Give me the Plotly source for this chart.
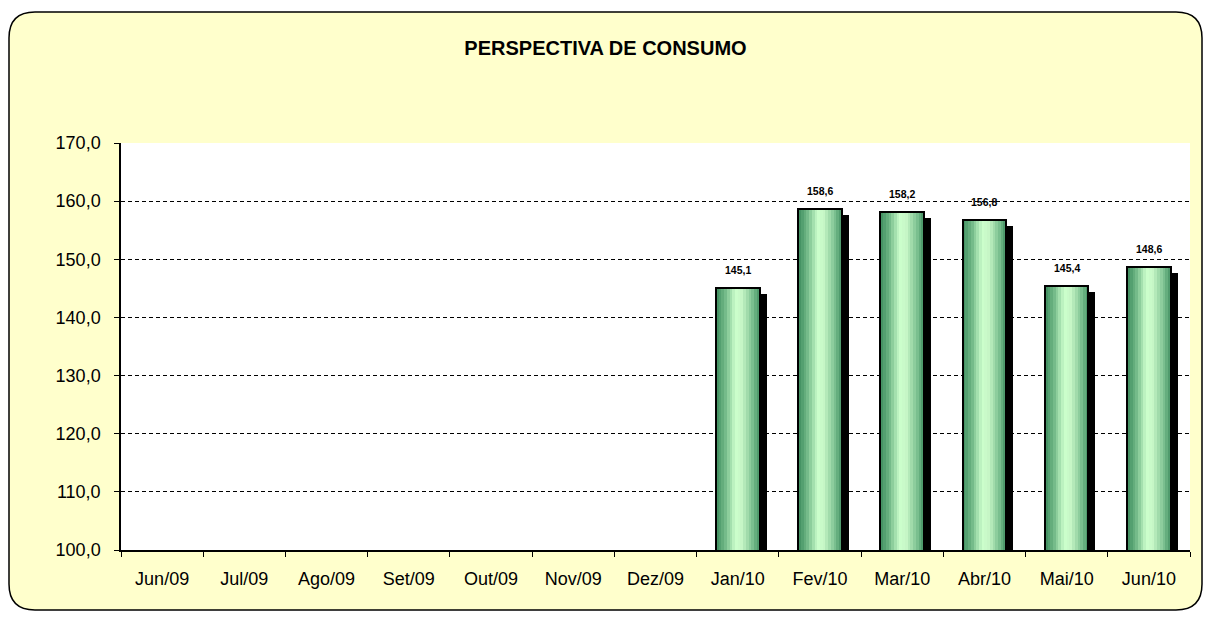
import plotly.graph_objects as go

# monthly consumption outlook
months = ['Jun/09', 'Jul/09', 'Ago/09', 'Set/09', 'Out/09', 'Nov/09', 'Dez/09',
          'Jan/10', 'Fev/10', 'Mar/10', 'Abr/10', 'Mai/10', 'Jun/10']
consumo = [None, None, None, None, None, None, None,
           145.1, 158.6, 158.2, 156.8, 145.4, 148.6]
y_ticks = [100, 110, 120, 130, 140, 150, 160, 170]

# page has an 8px body margin, so the figure is a bit smaller than the window
W, H = 1195, 603
L, R, T, B = 113, 13, 135, 61
pw, ph = W - L - R, H - T - B

bar_w = 0.53
cat_px = pw / len(months)
px_unit = ph / (y_ticks[-1] - y_ticks[0])

fig = go.Figure()

# black drop shadow, shifted right/down a few pixels
shadow = [v - 6 / px_unit if v is not None else None for v in consumo]
fig.add_trace(go.Bar(x=months, y=shadow, width=bar_w, offset=-bar_w / 2 + 7 / cat_px,
                     marker=dict(color='black', line=dict(width=0)),
                     hoverinfo='skip', showlegend=False))

# horizontal green gradient built from thin stripes
stops = [(0.0, (62, 140, 94)), (0.2, (110, 182, 133)), (0.45, (204, 255, 204)),
         (0.6, (198, 246, 198)), (0.85, (120, 190, 142)), (1.0, (70, 146, 100))]


def grad(t):
    for (t0, c0), (t1, c1) in zip(stops, stops[1:]):
        if t <= t1:
            f = (t - t0) / (t1 - t0)
            return 'rgb(%d,%d,%d)' % tuple(round(a + (b - a) * f) for a, b in zip(c0, c1))
    return 'rgb(%d,%d,%d)' % stops[-1][1]


n = 16
sw = bar_w / n
for i in range(n):
    fig.add_trace(go.Bar(x=months, y=consumo, width=sw * 1.05, offset=-bar_w / 2 + i * sw,
                         marker=dict(color=grad((i + 0.5) / n), line=dict(width=0)),
                         hoverinfo='skip', showlegend=False))

# outline
fig.add_trace(go.Bar(x=months, y=consumo, width=bar_w, offset=-bar_w / 2,
                     marker=dict(color='rgba(0,0,0,0)', line=dict(color='black', width=2)),
                     showlegend=False))

for m, v in zip(months, consumo):
    if v is None:
        continue
    fig.add_annotation(x=m, y=v, text='<b>' + f'{v:.1f}'.replace('.', ',') + '</b>',
                       showarrow=False, yshift=18,
                       font=dict(size=10.5, color='black', family='Liberation Sans, Arial'))


# rounded chart frame + white plot area
def px_x(x):
    return (x - L) / pw


def px_y(y):
    return (H - B - y) / ph


x0, x1, y0, y1, r = 1, 1194, 4, 602, 26
path = (f'M {px_x(x0 + r)},{px_y(y0)} L {px_x(x1 - r)},{px_y(y0)} '
        f'Q {px_x(x1)},{px_y(y0)} {px_x(x1)},{px_y(y0 + r)} '
        f'L {px_x(x1)},{px_y(y1 - r)} Q {px_x(x1)},{px_y(y1)} {px_x(x1 - r)},{px_y(y1)} '
        f'L {px_x(x0 + r)},{px_y(y1)} Q {px_x(x0)},{px_y(y1)} {px_x(x0)},{px_y(y1 - r)} '
        f'L {px_x(x0)},{px_y(y0 + r)} Q {px_x(x0)},{px_y(y0)} {px_x(x0 + r)},{px_y(y0)} Z')
fig.add_shape(type='path', path=path, xref='paper', yref='paper', layer='below',
              fillcolor='#FFFFCC', line=dict(color='black', width=1.5))
fig.add_shape(type='rect', x0=0, x1=1, y0=0, y1=1, xref='paper', yref='paper',
              layer='below', fillcolor='white', line=dict(width=0))

fig.update_layout(
    width=W, height=H,
    margin=dict(l=L, r=R, t=T, b=B),
    barmode='overlay', bargap=0,
    paper_bgcolor='white', plot_bgcolor='white',
    separators=',.',
    font=dict(family='Liberation Sans, Arial', color='black', size=18),
    title=dict(text='<b>PERSPECTIVA DE CONSUMO</b>', x=0.5, xref='container',
               xanchor='center', y=1 - 40 / H, yanchor='middle',
               font=dict(size=20, color='black')),
)
fig.update_xaxes(type='category', showline=True, linecolor='black', linewidth=1.5,
                 ticks='outside', tickson='boundaries', ticklen=5, tickcolor='black',
                 showgrid=False, tickfont=dict(size=18), ticklabelstandoff=12)
fig.update_yaxes(range=[y_ticks[0], y_ticks[-1]], tickvals=y_ticks, tickformat='.1f',
                 showline=True, linecolor='black', linewidth=1.5,
                 ticks='outside', ticklen=5, tickcolor='black',
                 showgrid=True, gridcolor='black', gridwidth=1, griddash='4px,3px',
                 zeroline=False, tickfont=dict(size=18), ticklabelstandoff=10)

fig.write_html('out.html')
